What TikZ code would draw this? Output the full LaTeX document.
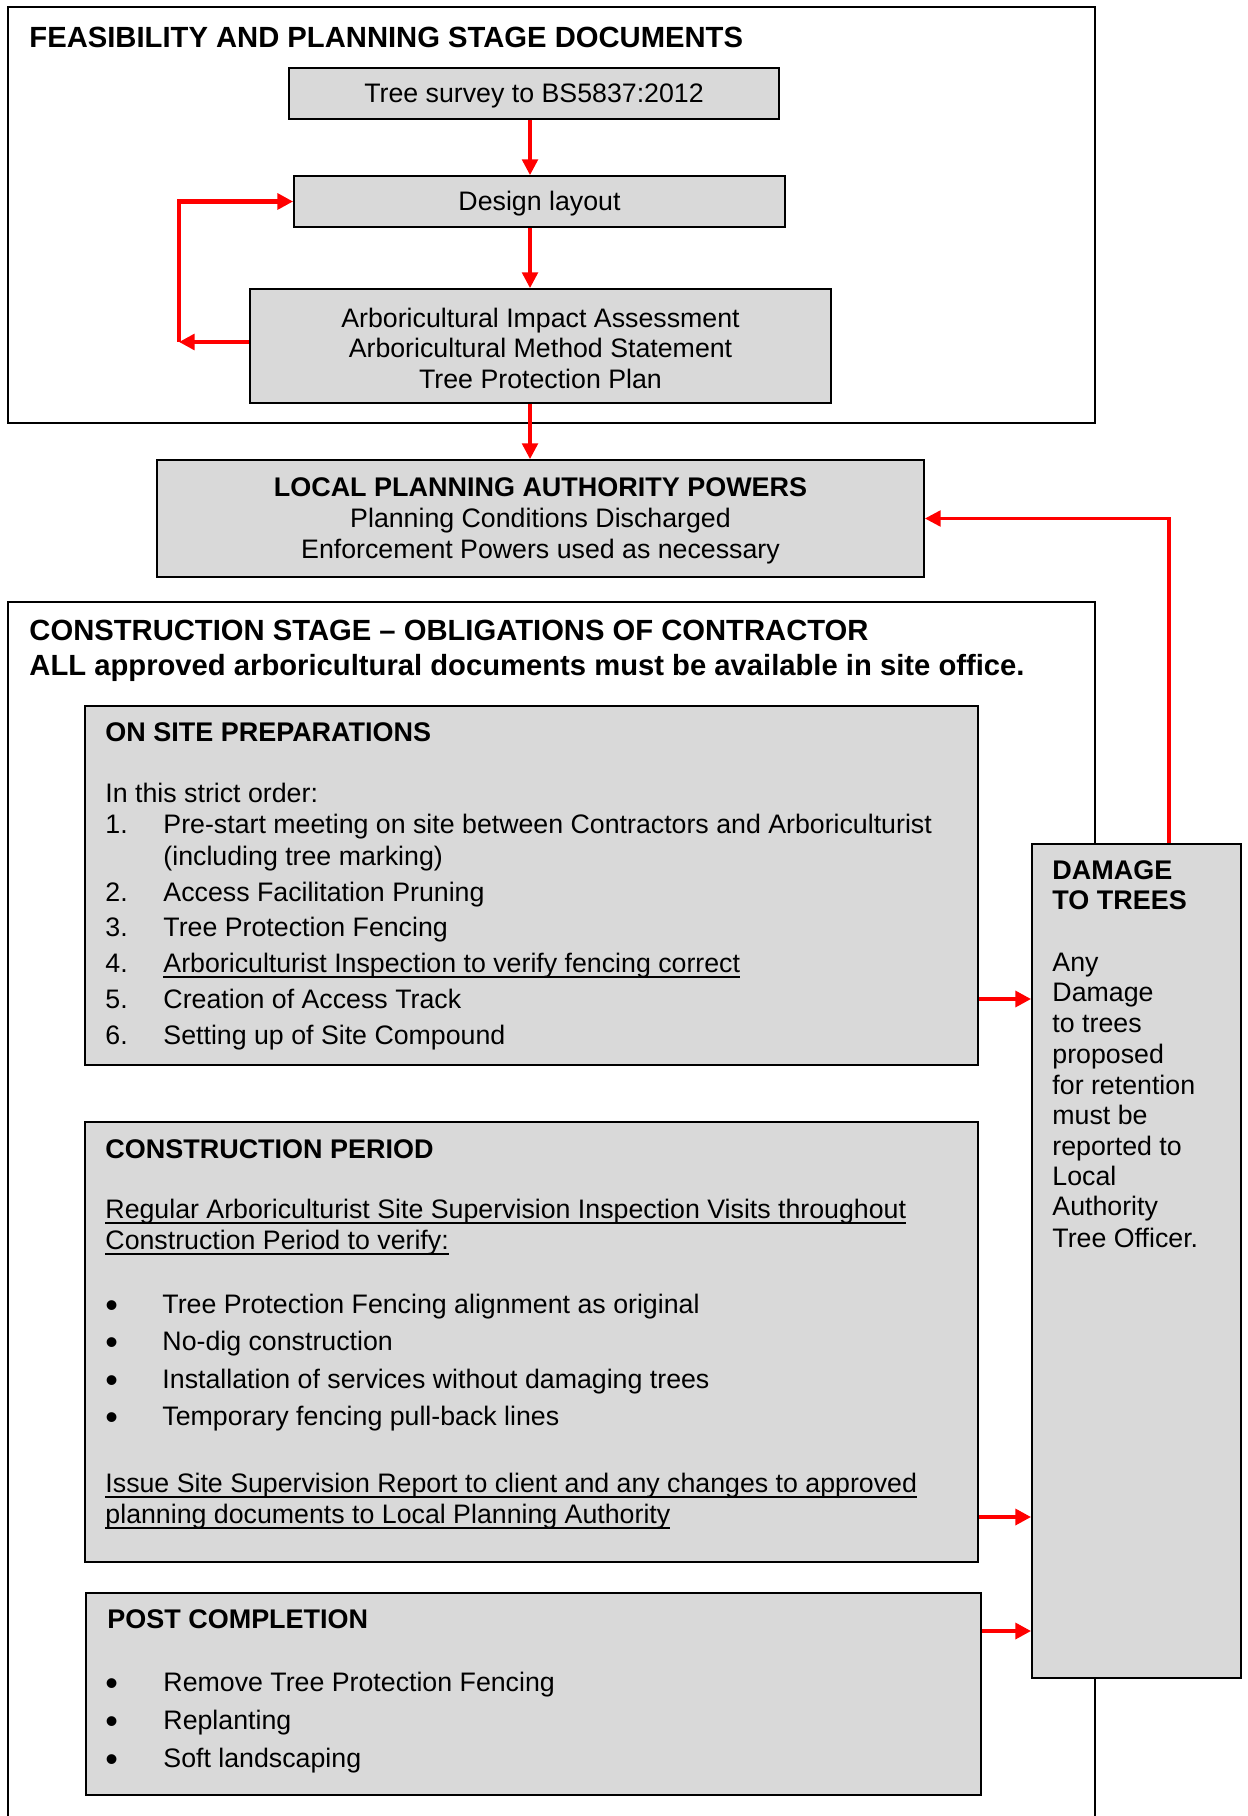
\documentclass[tikz,border=0pt]{standalone}
\usepackage{fontspec}
\setmainfont{Liberation Sans}
\usetikzlibrary{arrows.meta,fit}
\definecolor{boxgray}{RGB}{217,217,217}
\definecolor{flowred}{RGB}{255,0,0}
\newcommand{\undl}[1]{\setbox0\hbox{#1}\rlap{\rule[-2.4pt]{\wd0}{0.75pt}}\box0}
\newcommand{\bigdot}{\raisebox{-1.6pt}{\fontsize{16}{14}\selectfont\textbullet}}

\begin{document}
\begin{tikzpicture}[x=0.445pt,y=-0.445pt,
    frame/.style={draw,line width=0.8pt},
    box/.style={draw,fill=boxgray,line width=0.8pt,inner sep=0pt},
    ctxt/.style={inner sep=0pt,align=center,font=\fontsize{11.9}{13.7}\selectfont},
    txt/.style={anchor=west,inner sep=0pt,text height=8.6pt,text depth=0pt,font=\fontsize{11.9}{14}\selectfont},
    head/.style={txt,font=\fontsize{12}{14}\selectfont\bfseries},
    title/.style={txt,text height=9.3pt,font=\fontsize{13}{15}\selectfont\bfseries},
    flow/.style={flowred,line width=1.4pt,-{Triangle[length=7pt,width=7pt]}},
    stub/.style={flowred,line width=1.8pt,-{Triangle[length=7pt,width=7pt]}}]

    \useasboundingbox (0,0) rectangle (1247,1816);

    %%%%%%%%%%%%%%%%%%%%%%%%%%%%%%%%%%%%%%%%%%%%%%%%%%%%%%

    % feasibility and planning stage
    \draw[frame] (8,7) rectangle (1095,423);
    \node[title] (feastitle) at (29,37) {FEASIBILITY AND PLANNING STAGE DOCUMENTS};

    % tree survey
    \node[box,fit={(289,68) (779,119)}] (survey) {};
    \node[ctxt] (surveytext) at ([yshift=-1pt]survey.center) {Tree survey to BS5837:2012};

    % design layout
    \node[box,fit={(294,176) (785,227)}] (design) {};
    \node[ctxt] (designtext) at ([yshift=-1pt]design.center) {Design layout};

    % impact assessment, method statement, protection plan
    \node[box,fit={(250,289) (831,403)}] (aia) {};
    \node[ctxt] (aiatext) at ([yshift=-1pt]aia.center) {Arboricultural Impact Assessment\\Arboricultural Method Statement\\Tree Protection Plan};

    % main flow down the middle
    \coordinate (spine) at (530,0);
    \draw[flow] (survey.south -| spine) to (design.north -| spine);
    \draw[flow] (design.south -| spine) to (aia.north -| spine);

    % loop back to design
    \coordinate (loop) at (179,342);
    \draw[stub] (aia.west |- loop) to (loop);
    \draw[stub] (loop) |- (design.west);

    %%%%%%%%%%%%%%%%%%%%%%%%%%%%%%%%%%%%%%%%%%%%%%%%%%%%%%

    % local planning authority
    \node[box,fit={(157,460) (924,577)}] (lpa) {};
    \node[ctxt] (lpatext) at ([yshift=-1pt]lpa.center) {{\fontsize{12}{13.7}\selectfont\bfseries LOCAL PLANNING AUTHORITY POWERS}\\Planning Conditions Discharged\\Enforcement Powers used as necessary};
    \draw[flow] (aia.south -| spine) to (lpa.north -| spine);

    %%%%%%%%%%%%%%%%%%%%%%%%%%%%%%%%%%%%%%%%%%%%%%%%%%%%%%

    % construction stage (runs off the page)
    \draw[frame] (8,1840) -- (8,602) -- (1095,602) -- (1095,1840);
    \node[title] (contitle) at (29,630) {CONSTRUCTION STAGE -- OBLIGATIONS OF CONTRACTOR};
    \node[title] (consub) at (29,665) {ALL approved arboricultural documents must be available in site office.};

    %%%%%%%%%%%%%%%%%%%%%%%%%%%%%%%%%%%%%%%%%%%%%%%%%%%%%%

    % on site preparations
    \node[box,fit={(85,706) (978,1065)}] (osp) {};
    \node[head] (osphead) at (105,732) {ON SITE PREPARATIONS};
    \node[txt] (ospintro) at (105,793) {In this strict order:};
    \node[txt] (ospn1) at (105,824) {1.};
    \node[txt] (osp1) at (163,824) {Pre-start meeting on site between Contractors and Arboriculturist};
    \node[txt] (osp1b) at (163,856) {(including tree marking)};
    \node[txt] (ospn2) at (105,892) {2.};
    \node[txt] (osp2) at (163,892) {Access Facilitation Pruning};
    \node[txt] (ospn3) at (105,927) {3.};
    \node[txt] (osp3) at (163,927) {Tree Protection Fencing};
    \node[txt] (ospn4) at (105,963) {4.};
    \node[txt] (osp4) at (163,963) {\undl{Arboriculturist Inspection to verify fencing correct}};
    \node[txt] (ospn5) at (105,999) {5.};
    \node[txt] (osp5) at (163,999) {Creation of Access Track};
    \node[txt] (ospn6) at (105,1035) {6.};
    \node[txt] (osp6) at (163,1035) {Setting up of Site Compound};

    %%%%%%%%%%%%%%%%%%%%%%%%%%%%%%%%%%%%%%%%%%%%%%%%%%%%%%

    % construction period
    \node[box,fit={(85,1122) (978,1562)}] (period) {};
    \node[head] (periodhead) at (105,1149) {CONSTRUCTION PERIOD};
    \node[txt] (visits) at (105,1209) {\undl{Regular Arboriculturist Site Supervision Inspection Visits throughout}};
    \node[txt] (visitsb) at (105,1240) {\undl{Construction Period to verify:}};
    \node[txt] (pdot1) at (105,1304) {\bigdot};
    \node[txt] (period1) at (162,1304) {Tree Protection Fencing alignment as original};
    \node[txt] (pdot2) at (105,1341) {\bigdot};
    \node[txt] (period2) at (162,1341) {No-dig construction};
    \node[txt] (pdot3) at (105,1379) {\bigdot};
    \node[txt] (period3) at (162,1379) {Installation of services without damaging trees};
    \node[txt] (pdot4) at (105,1416) {\bigdot};
    \node[txt] (period4) at (162,1416) {Temporary fencing pull-back lines};
    \node[txt] (report) at (105,1483) {\undl{Issue Site Supervision Report to client and any changes to approved}};
    \node[txt] (reportb) at (105,1514) {\undl{planning documents to Local Planning Authority}};

    %%%%%%%%%%%%%%%%%%%%%%%%%%%%%%%%%%%%%%%%%%%%%%%%%%%%%%

    % post completion
    \node[box,fit={(86,1593) (981,1795)}] (post) {};
    \node[head] (posthead) at (107,1619) {POST COMPLETION};
    \node[txt] (cdot1) at (105,1682) {\bigdot};
    \node[txt] (post1) at (163,1682) {Remove Tree Protection Fencing};
    \node[txt] (cdot2) at (105,1720) {\bigdot};
    \node[txt] (post2) at (163,1720) {Replanting};
    \node[txt] (cdot3) at (105,1758) {\bigdot};
    \node[txt] (post3) at (163,1758) {Soft landscaping};

    %%%%%%%%%%%%%%%%%%%%%%%%%%%%%%%%%%%%%%%%%%%%%%%%%%%%%%

    % damage to trees
    \node[box,fit={(1032,844) (1241,1678)}] (damage) {};
    \node[head] (dmghead) at (1052,870) {DAMAGE};
    \node[head] (dmgheadb) at (1052,900) {TO TREES};
    \node[txt] (dmg1) at (1052,962) {Any};
    \node[txt] (dmg2) at (1052,992) {Damage};
    \node[txt] (dmg3) at (1052,1023) {to trees};
    \node[txt] (dmg4) at (1052,1054) {proposed};
    \node[txt] (dmg5) at (1052,1085) {for retention};
    \node[txt] (dmg6) at (1052,1115) {must be};
    \node[txt] (dmg7) at (1052,1146) {reported to};
    \node[txt] (dmg8) at (1052,1176) {Local};
    \node[txt] (dmg9) at (1052,1206) {Authority};
    \node[txt] (dmg10) at (1052,1238) {Tree Officer.};

    % reports into damage box
    \coordinate (fromosp) at (0,999);
    \coordinate (fromperiod) at (0,1517);
    \coordinate (frompost) at (0,1631);
    \draw[stub] (osp.east |- fromosp) to (damage.west |- fromosp);
    \draw[stub] (period.east |- fromperiod) to (damage.west |- fromperiod);
    \draw[stub] (post.east |- frompost) to (damage.west |- frompost);

    % damage back up to planning authority
    \coordinate (feed) at (1169,518);
    \draw[flow] (damage.north -| feed) |- (lpa.east);

\end{tikzpicture}
\end{document}
